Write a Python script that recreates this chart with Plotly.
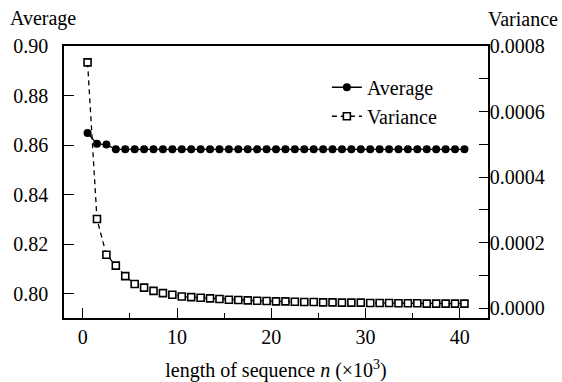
import plotly.graph_objects as go

# ---- data ----
seq_len = [0.5 + k for k in range(41)]  # x10^3
average = [0.8649, 0.8605, 0.8602] + [0.8583] * 38
variance = [
    0.000750, 0.000272, 0.000163, 0.000130, 0.000098, 0.000074, 0.000063,
    0.000053, 0.000046, 0.000041, 0.000036, 0.000034, 0.000032, 0.000030,
    0.000028, 0.000026, 0.000025, 0.000024, 0.000023, 0.000022, 0.000021,
    0.000021, 0.000020, 0.000019, 0.000019, 0.000018, 0.000018, 0.000017,
    0.000017, 0.000017, 0.000016, 0.000016, 0.000016, 0.000015, 0.000015,
    0.000015, 0.000014, 0.000014, 0.000014, 0.000014, 0.000014,
]
x_ticks = [0, 10, 20, 30, 40]
left_ticks = [0.80, 0.82, 0.84, 0.86, 0.88, 0.90]
left_labels = ["0.80", "0.82", "0.84", "0.86", "0.88", "0.90"]
right_ticks = [0.0, 0.0002, 0.0004, 0.0006, 0.0008]
right_labels = ["0.0000", "0.0002", "0.0004", "0.0006", "0.0008"]

FONT = "Liberation Serif"
FS = 20

fig = go.Figure()
fig.add_trace(go.Scatter(
    x=seq_len, y=average, name="Average", mode="lines+markers",
    line=dict(color="black", width=1.3),
    marker=dict(symbol="circle", size=8, color="black"),
    yaxis="y",
))
fig.add_trace(go.Scatter(
    x=seq_len, y=variance, name="Variance", mode="lines+markers",
    line=dict(color="black", width=1.3, dash="5px,4px"),
    marker=dict(symbol="square", size=7, color="white",
                line=dict(color="black", width=1.6)),
    yaxis="y2",
))

fig.update_layout(
    width=562, height=382,
    margin=dict(l=64, r=74, t=46, b=64),
    paper_bgcolor="white", plot_bgcolor="white",
    font=dict(family=FONT, size=FS, color="black"),
    showlegend=True,
    legend=dict(x=0.62, y=0.92, xanchor="left", yanchor="top",
                bgcolor="rgba(0,0,0,0)", font=dict(family=FONT, size=FS)),
    xaxis=dict(
        range=[-2, 43], tickvals=x_ticks, ticks="inside", ticklen=10,
        tickwidth=1.3, tickcolor="black",
        minor=dict(dtick=5, tick0=0, ticks="inside", ticklen=5,
                   tickwidth=1.3, tickcolor="black"),
        showline=True, linecolor="black", linewidth=1.5, mirror=True,
        showgrid=False, zeroline=False, ticklabelstandoff=0,
        automargin=False,
        tickfont=dict(family=FONT, size=FS),
        title=dict(text="length of sequence <i>n</i> (×10<sup>3</sup>)",
                   font=dict(family=FONT, size=FS), standoff=32),
    ),
    yaxis=dict(
        range=[0.7902, 0.9], tickvals=left_ticks, ticktext=left_labels,
        ticks="inside", ticklen=10, tickwidth=1.3, tickcolor="black",
        showline=True, linecolor="black", linewidth=1.5,
        showgrid=False, zeroline=False, ticklabelstandoff=10,
        automargin=False,
        tickfont=dict(family=FONT, size=FS),
    ),
    yaxis2=dict(
        range=[-0.0000298, 0.0008], overlaying="y", side="right",
        tickvals=right_ticks, ticktext=right_labels,
        ticks="inside", ticklen=9, tickwidth=1.3, tickcolor="black",
        minor=dict(dtick=0.0001, tick0=0, ticks="inside", ticklen=9,
                   tickwidth=1.3, tickcolor="black"),
        showline=True, linecolor="black", linewidth=1.5,
        showgrid=False, zeroline=False, ticklabelstandoff=-4,
        automargin=False,
        tickfont=dict(family=FONT, size=FS),
    ),
    annotations=[
        dict(text="Average", xref="paper", yref="paper", x=-64 / 424, y=1,
             xanchor="left", yanchor="bottom", yshift=14, xshift=8,
             showarrow=False, font=dict(family=FONT, size=FS)),
        dict(text="Variance", xref="paper", yref="paper", x=1, y=1,
             xanchor="left", yanchor="bottom", yshift=14, xshift=-2,
             showarrow=False, font=dict(family=FONT, size=FS)),
    ],
)

fig.write_html("out.html")
